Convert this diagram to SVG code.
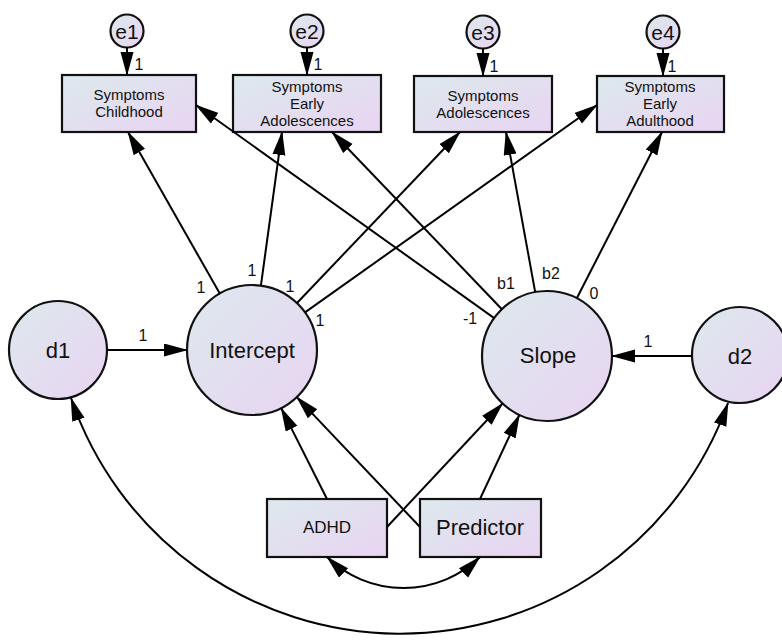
<svg xmlns="http://www.w3.org/2000/svg" width="782" height="644" viewBox="0 0 782 644">
<style>
text{font-family:"Liberation Sans",Arial,sans-serif;fill:#111;text-anchor:middle}
.node{fill:url(#g);stroke:#111;stroke-width:2.2}
.big{font-size:22px}
.small{font-size:15px}
.lab{font-size:16px}
.e{font-size:21px}
.c{fill:none;stroke:#000;stroke-width:2;marker-end:url(#ah)}
.cov{fill:none;stroke:#000;stroke-width:2;marker-start:url(#ah);marker-end:url(#ah)}
</style>
<defs>
<linearGradient id="g" x1="0" y1="0" x2="1" y2="1">
<stop offset="0" stop-color="#dce9ed"/>
<stop offset="1" stop-color="#e9d4f2"/>
</linearGradient>
<marker id="ah" markerUnits="userSpaceOnUse" markerWidth="26" markerHeight="14" refX="23" refY="6.5" orient="auto-start-reverse">
<path d="M0,0 L24,6.5 L0,13 Z" fill="#000"/>
</marker>
</defs>
<rect width="782" height="644" fill="#fff"/>

<g id="box1"><rect class="node" x="62" y="75" width="134" height="57"/><text class="small" x="129" y="100">Symptoms</text><text class="small" x="129" y="117">Childhood</text></g>
<g id="box2"><rect class="node" x="233" y="75" width="148" height="57"/><text class="small" x="307" y="92">Symptoms</text><text class="small" x="307" y="109">Early</text><text class="small" x="307" y="126">Adolescences</text></g>
<g id="box3"><rect class="node" x="414" y="76" width="138" height="56"/><text class="small" x="483" y="101">Symptoms</text><text class="small" x="483" y="118">Adolescences</text></g>
<g id="box4"><rect class="node" x="597" y="76" width="127" height="56"/><text class="small" x="660" y="92">Symptoms</text><text class="small" x="660" y="109">Early</text><text class="small" x="660" y="126">Adulthood</text></g>

<g id="e1"><circle class="node" cx="127" cy="31" r="16.5"/><text class="e" x="127" y="39">e1</text></g>
<g id="e2"><circle class="node" cx="307" cy="31" r="16.5"/><text class="e" x="307" y="39">e2</text></g>
<g id="e3"><circle class="node" cx="483" cy="32" r="16.5"/><text class="e" x="483" y="40">e3</text></g>
<g id="e4"><circle class="node" cx="663" cy="32" r="16.5"/><text class="e" x="663" y="40">e4</text></g>

<g id="Intercept"><circle class="node" cx="252" cy="350" r="65"/><text class="big" x="252" y="358">Intercept</text></g>
<g id="Slope"><circle class="node" cx="547" cy="356" r="65"/><text class="big" x="548" y="363">Slope</text></g>
<g id="d1"><circle class="node" cx="58" cy="350" r="49"/><text class="big" x="58" y="358">d1</text></g>
<g id="d2"><circle class="node" cx="740" cy="355" r="48"/><text class="big" x="740" y="364">d2</text></g>
<g id="ADHD"><rect class="node" x="267" y="499" width="120" height="58"/><text style="font-size:17px" x="327" y="533">ADHD</text></g>
<g id="Predictor"><rect class="node" x="420" y="499" width="121" height="58"/><text class="big" x="480" y="535">Predictor</text></g>

<g id="connectors">
<line class="c" x1="127" y1="47" x2="127" y2="75"/>
<line class="c" x1="307" y1="47" x2="307" y2="75"/>
<line class="c" x1="483" y1="48" x2="483" y2="76"/>
<line class="c" x1="663" y1="48" x2="663" y2="76"/>

<line class="c" x1="219.8" y1="293.6" x2="128" y2="132"/>
<line class="c" x1="260.9" y1="285.6" x2="282" y2="132"/>
<line class="c" x1="297" y1="303" x2="460" y2="132"/>
<line class="c" x1="305" y1="312.4" x2="597" y2="105"/>

<line class="c" x1="494.2" y1="318.1" x2="196" y2="105"/>
<line class="c" x1="501.9" y1="309.2" x2="332" y2="132"/>
<line class="c" x1="535.2" y1="292.1" x2="506" y2="132"/>
<line class="c" x1="576.8" y1="298.2" x2="662" y2="132"/>

<line class="c" x1="107" y1="350" x2="187" y2="350"/>
<line class="c" x1="692" y1="356" x2="612" y2="356"/>

<line class="c" x1="327" y1="499" x2="281.2" y2="408.1"/>
<line class="c" x1="420" y1="527" x2="296.7" y2="397.1"/>
<line class="c" x1="387" y1="527" x2="502.6" y2="403.5"/>
<line class="c" x1="480" y1="499" x2="519.4" y2="414.8"/>

<path class="cov" d="M327,557 A110,110 0 0 0 480,557"/>
<path class="cov" d="M71,398 A348,348 0 0 0 728,403"/>
</g>

<g id="labels">
<text class="lab" x="139" y="70">1</text>
<text class="lab" x="318" y="70">1</text>
<text class="lab" x="494" y="72">1</text>
<text class="lab" x="672" y="72">1</text>
<text class="lab" x="201" y="293">1</text>
<text class="lab" x="252" y="276">1</text>
<text class="lab" x="290" y="292">1</text>
<text class="lab" x="320" y="326">1</text>
<text class="lab" x="470" y="324">-1</text>
<text class="lab" x="506" y="289">b1</text>
<text class="lab" x="551" y="279">b2</text>
<text class="lab" x="594" y="299">0</text>
<text class="lab" x="143" y="341">1</text>
<text class="lab" x="648" y="347">1</text>
</g>
</svg>
